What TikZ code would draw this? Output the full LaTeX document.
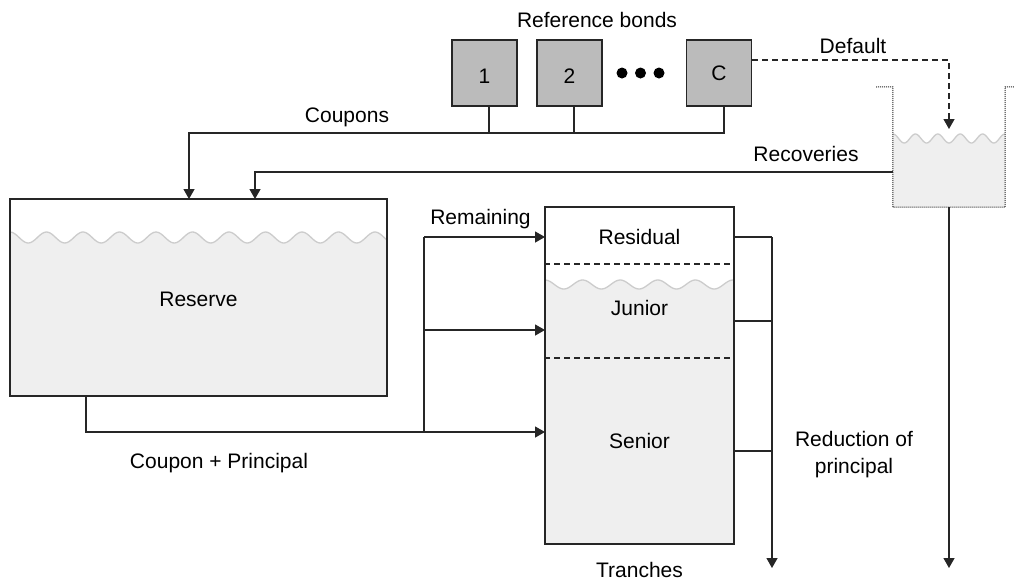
\documentclass[tikz,border=0pt]{standalone}
\usepackage{fontspec}
\setmainfont{Liberation Sans}
\usetikzlibrary{arrows.meta}
\definecolor{ln}{HTML}{262626}
\definecolor{bondfill}{HTML}{BBBBBB}
\definecolor{liq}{HTML}{EFEFEF}
\definecolor{wave}{HTML}{CCCCCC}
\begin{document}
\begin{tikzpicture}[x=1pt,y=-1pt,
  every node/.style={font=\fontsize{21}{27}\selectfont, text=black},
  lbl/.style={inner sep=0pt, anchor=base},
  bond/.style={draw=ln, line width=1.3pt, fill=bondfill, minimum width=65pt, minimum height=66pt, inner sep=0pt},
  tank/.style={draw=ln, line width=1.3pt, inner sep=0pt},
  dotnode/.style={circle, fill=black, minimum size=11pt, inner sep=0pt},
  flow/.style={draw=ln, line width=1.3pt, -{Triangle[length=10pt,width=11pt]}},
  link/.style={draw=ln, line width=1.3pt},
  dflow/.style={draw=ln, line width=1.3pt, dash pattern=on 6pt off 4pt, -{Triangle[length=10pt,width=11pt]}},
  sep/.style={draw=ln, line width=1.3pt, dash pattern=on 6pt off 4pt},
  bucketwall/.style={draw=ln, line width=1pt, dash pattern=on 1pt off 1pt},
  waveline/.style={draw=wave, line width=1.3pt},
]
\useasboundingbox[fill=white] (0,0) rectangle (1014,582);

% ---------- liquid fills ----------
\fill[liq] plot[domain=10:387, samples=200] (\x, {237.5-5.5*cos(9.863*(\x-10))}) -- (387,396) -- (10,396) -- cycle;
\draw[waveline] plot[domain=10:387, samples=200] (\x, {237.5-5.5*cos(9.863*(\x-10))});

\fill[liq] plot[domain=545:734, samples=120] (\x, {284.5-4.5*cos(9.5745*(\x-545))}) -- (734,544) -- (545,544) -- cycle;
\draw[waveline] plot[domain=545:734, samples=120] (\x, {284.5-4.5*cos(9.5745*(\x-545))});

\fill[liq] plot[domain=893:1005, samples=100] (\x, {138.5-4.5*cos(16.0714*(\x-893))}) -- (1005,207) -- (893,207) -- cycle;
\draw[waveline] plot[domain=893:1005, samples=100] (\x, {138.5-4.5*cos(16.0714*(\x-893))});

% ---------- bonds ----------
\node[lbl] (reftitle) at (597,27) {Reference bonds};
\node[bond] (b1) at (484.5,73) {};
\node[bond] (b2) at (569.5,73) {};
\node[bond] (bC) at (719,73) {};
\node[lbl] (t1) at (484.5,83) {1};
\node[lbl] (t2) at (569.5,83) {2};
\node[lbl] (tC) at (719,80) {C};
\node[dotnode] (d1) at (622,73) {};
\node[dotnode] (d2) at (640.5,73) {};
\node[dotnode] (d3) at (659,73) {};

% ---------- reserve ----------
\node[tank, minimum width=377pt, minimum height=197pt] (reserve) at (198.5,297.5) {};
\node[lbl] (treserve) at (198.5,306) {Reserve};

% ---------- tranches ----------
\node[tank, minimum width=189pt, minimum height=337pt] (tranche) at (639.5,375.5) {};
\draw[sep] (tranche.west |- 0,264) -- (tranche.east |- 0,264);
\draw[sep] (tranche.west |- 0,358) -- (tranche.east |- 0,358);
\node[lbl] (residual) at (639.5,244) {Residual};
\node[lbl] (junior) at (639.5,315.7) {Junior};
\node[lbl] (senior) at (639.5,448.3) {Senior};
\node[lbl] (ttranches) at (639.5,577) {Tranches};

% ---------- bucket ----------
\node[inner sep=0pt, minimum width=112pt, minimum height=120pt] (bucket) at (949,147) {};
\draw[bucketwall] (876,87) -- (bucket.north west) -- (bucket.south west) -- (bucket.south east) -- (bucket.north east) -- (1014,87);

% ---------- coordinates ----------
\coordinate (s1) at (489,106);
\coordinate (s2) at (574,106);
\coordinate (sC) at (724,106);
\coordinate (bus1) at (489,133);
\coordinate (bus2) at (574,133);
\coordinate (busC) at (724,133);
\coordinate (cpin) at (189,199);
\coordinate (recout) at (893,172);
\coordinate (recin) at (255,199);
\coordinate (defout) at (752,60);
\coordinate (defin) at (949,129);
\coordinate (resout) at (86,396);
\coordinate (jx) at (424,432);
\coordinate (jtop) at (424,237);
\coordinate (inres) at (545,237);
\coordinate (injun) at (545,330);
\coordinate (insen) at (545,432);
\coordinate (ores) at (734,237);
\coordinate (ojun) at (734,321);
\coordinate (osen) at (734,451);
\coordinate (rx) at (772,237);
\coordinate (rend) at (772,568);
\coordinate (bout) at (949,207);
\coordinate (bend) at (949,568);

% ---------- connectors ----------
\draw[link] (s1) -- (bus1);
\draw[link] (s2) -- (bus2);
\draw[flow] (sC) -- (busC) -- (cpin |- busC) -- (cpin);
\draw[flow] (recout) -- (recin |- recout) -- (recin);
\draw[dflow] (defout) -- (defin |- defout) -- (defin);

\draw[flow] (resout) -- (resout |- jx) -- (insen);
\draw[link] (jx) -- (jtop);
\draw[flow] (jtop) -- (inres);
\draw[flow] (jtop |- injun) -- (injun);

\draw[link] (ores) -- (rx);
\draw[link] (ojun) -- (rx |- ojun);
\draw[link] (osen) -- (rx |- osen);
\draw[flow] (rx) -- (rend);
\draw[flow] (bout) -- (bend);

% ---------- labels ----------
\node[lbl] (lcoupons) at (347,122.7) {Coupons};
\node[lbl] (ldefault) at (853,53.5) {Default};
\node[lbl] (lrec) at (806,161.7) {Recoveries};
\node[lbl] (lrem) at (480.5,224.3) {Remaining};
\node[lbl] (lcp) at (219,468.5) {Coupon + Principal};
\node[lbl] (lred1) at (854,446.7) {Reduction of};
\node[lbl] (lred2) at (854,473.5) {principal};
\end{tikzpicture}
\end{document}
